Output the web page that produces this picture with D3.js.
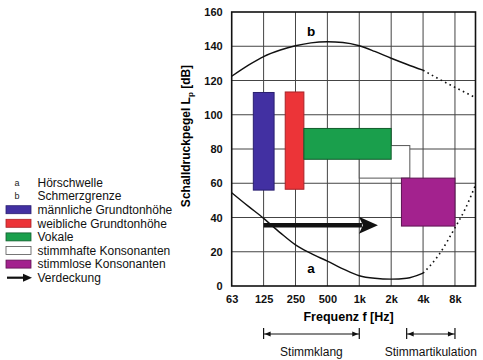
<!DOCTYPE html>
<html><head><meta charset="utf-8">
<script src="https://cdn.jsdelivr.net/npm/d3@7"></script>
<style>
html,body{margin:0;padding:0;background:#fff;}
svg{display:block;font-family:"Liberation Sans",Arial,sans-serif;}
</style></head>
<body><svg id="c" width="483" height="360"></svg>
<script>
// ---------- data ----------
const freqTicks = [62.5, 125, 250, 500, 1000, 2000, 4000, 8000];
const freqTickLabels = ["63", "125", "250", "500", "1k", "2k", "4k", "8k"];
const dbTicks = [0, 20, 40, 60, 80, 100, 120, 140, 160];

// Schmerzgrenze (b)
const painFreq  = [62.5, 90, 125, 180, 250, 350, 500, 700, 1000, 1400, 2000, 2800, 4000];
const painDb    = [122.5, 129, 134, 137.8, 140.3, 142, 142.6, 142.2, 140.3, 137, 133, 129.5, 126];
const painDotFreq = [4000, 5600, 8000, 10000, 12500];
const painDotDb   = [126, 121, 116, 113, 110];

// Hörschwelle (a)
const hearFreq  = [62.5, 90, 125, 180, 250, 350, 500, 700, 1000, 1400, 2000, 2800, 4000];
const hearDb    = [54.5, 46.5, 39.5, 31, 24, 19, 14.5, 10, 6, 4.5, 4, 4.5, 7.5];
const hearDotFreq = [4000, 5600, 8000, 10000, 12500];
const hearDotDb   = [7.5, 18, 34, 45, 59];

// areas: [fLow, fHigh, dbLow, dbHigh]
const areaNames = ["stimmhafte Konsonanten", "männliche Grundtonhöhe", "weibliche Grundtonhöhe", "Vokale", "stimmlose Konsonanten"];
const areaFLow  = [1000, 100, 200, 300, 2500];
const areaFHigh = [3000, 157, 300, 2000, 8000];
const areaDbLow = [63, 56, 56.5, 74, 35];
const areaDbHigh= [82, 113, 113.3, 92, 63];

// Verdeckung arrow
const arrowFreq = [125, 1500];
const arrowDb = 35.5;

const legendLabels = ["Hörschwelle", "Schmerzgrenze", "männliche Grundtonhöhe", "weibliche Grundtonhöhe", "Vokale", "stimmhafte Konsonanten", "stimmlose Konsonanten", "Verdeckung"];
const legendKinds  = ["a", "b", "männliche Grundtonhöhe", "weibliche Grundtonhöhe", "Vokale", "stimmhafte Konsonanten", "stimmlose Konsonanten", "arrow"];

const brackets = [
  {label: "Stimmklang", from: 125, to: 1000},
  {label: "Stimmartikulation", from: 2800, to: 8000}
];

// ---------- styles ----------
const fills = {
  "männliche Grundtonhöhe": "#4230a2",
  "weibliche Grundtonhöhe": "#ec3438",
  "Vokale": "#1a9f4c",
  "stimmhafte Konsonanten": "#ffffff",
  "stimmlose Konsonanten": "#a3228e"
};
const strokes = {
  "männliche Grundtonhöhe": "#2a1f70",
  "weibliche Grundtonhöhe": "#a82227",
  "Vokale": "#115c2c",
  "stimmhafte Konsonanten": "#555",
  "stimmlose Konsonanten": "#5e1352"
};

const svg = d3.select("#c");
const L = 231.7, R = 475.5, T = 12, B = 286;
const x = d3.scaleLog().base(2).domain([62.5, 12500]).range([L, R]);
const y = d3.scaleLinear().domain([0, 160]).range([B, T]);

// grid
const g = svg.append("g");
g.selectAll(".vg").data(freqTicks.slice(1)).join("line")
  .attr("x1", d => x(d)).attr("x2", d => x(d)).attr("y1", T).attr("y2", B)
  .attr("stroke", "#444").attr("stroke-width", 1);
g.selectAll(".hg").data(dbTicks.slice(1, -1)).join("line")
  .attr("x1", L).attr("x2", R).attr("y1", d => y(d)).attr("y2", d => y(d))
  .attr("stroke", "#444").attr("stroke-width", 1);

// areas
const areas = areaNames.map((n, i) => ({n, f0: areaFLow[i], f1: areaFHigh[i], d0: areaDbLow[i], d1: areaDbHigh[i]}));
svg.append("g").selectAll("rect").data(areas).join("rect")
  .attr("x", d => x(d.f0)).attr("width", d => x(d.f1) - x(d.f0))
  .attr("y", d => y(d.d1)).attr("height", d => y(d.d0) - y(d.d1))
  .attr("fill", d => fills[d.n]).attr("stroke", d => strokes[d.n]).attr("stroke-width", 1);

// curves
const line = d3.line().x(d => x(d[0])).y(d => y(d[1])).curve(d3.curveMonotoneX);
function drawCurve(fs, ds, dotted) {
  svg.append("path").datum(fs.map((f, i) => [f, ds[i]]))
    .attr("d", line).attr("fill", "none").attr("stroke", "#111")
    .attr("stroke-width", dotted ? 1.6 : 1.4)
    .attr("stroke-dasharray", dotted ? "1.6,3.4" : null);
}
drawCurve(painFreq, painDb, false);
drawCurve(painDotFreq, painDotDb, true);
drawCurve(hearFreq, hearDb, false);
drawCurve(hearDotFreq, hearDotDb, true);

// arrow
const ax0 = x(arrowFreq[0]), ax1 = x(arrowFreq[1]), ay = y(arrowDb);
svg.append("line").attr("x1", ax0).attr("x2", ax1 - 16).attr("y1", ay).attr("y2", ay)
  .attr("stroke", "#111").attr("stroke-width", 4.5);
svg.append("path").attr("d", `M${ax1},${ay} L${ax1 - 19},${ay - 8.5} L${ax1 - 15},${ay} L${ax1 - 19},${ay + 8.5} Z`)
  .attr("fill", "#111");

// frame
svg.append("rect").attr("x", L).attr("y", T).attr("width", R - L).attr("height", B - T)
  .attr("fill", "none").attr("stroke", "#111").attr("stroke-width", 1.6);

// curve labels
svg.append("text").attr("x", 311).attr("y", 36).attr("text-anchor", "middle")
  .attr("font-size", 13.5).attr("font-weight", "bold").text("b");
svg.append("text").attr("x", 311).attr("y", 273).attr("text-anchor", "middle")
  .attr("font-size", 13.5).attr("font-weight", "bold").text("a");

// axes
const yAxis = svg.append("g").attr("transform", `translate(${L},0)`)
  .call(d3.axisLeft(y).tickValues(dbTicks).tickSize(0).tickPadding(9));
yAxis.select(".domain").remove();
yAxis.selectAll("text").attr("font-size", 11).attr("font-weight", "bold")
  .attr("font-family", "'Liberation Sans',Arial,sans-serif").attr("fill", "#111");

const xAxis = svg.append("g").attr("transform", `translate(0,${B})`)
  .call(d3.axisBottom(x).tickValues(freqTicks).tickFormat((d, i) => freqTickLabels[i]).tickSize(0).tickPadding(9));
xAxis.select(".domain").remove();
xAxis.selectAll("text").attr("font-size", 11).attr("font-weight", "bold")
  .attr("font-family", "'Liberation Sans',Arial,sans-serif").attr("fill", "#111");

// axis titles
svg.append("text").attr("x", (L + R) / 2 - 5).attr("y", 321).attr("text-anchor", "middle")
  .attr("font-size", 12.5).attr("font-weight", "bold").text("Frequenz f [Hz]");
const yt = svg.append("text").attr("transform", "translate(190,136) rotate(-90)")
  .attr("text-anchor", "middle").attr("font-size", 12).attr("font-weight", "bold");
yt.append("tspan").text("Schalldruckpegel L");
yt.append("tspan").attr("font-size", 8).attr("dy", 3).text("p");
yt.append("tspan").attr("dy", -3).text(" [dB]");

// brackets
const by = 334;
brackets.forEach(b => {
  const x0 = x(b.from), x1 = x(b.to);
  svg.append("line").attr("x1", x0).attr("x2", x1).attr("y1", by).attr("y2", by).attr("stroke", "#111").attr("stroke-width", 1);
  [x0, x1].forEach(xx => svg.append("line").attr("x1", xx).attr("x2", xx).attr("y1", by - 6).attr("y2", by + 5)
    .attr("stroke", "#111").attr("stroke-width", 1.2));
  svg.append("path").attr("d", `M${x0 + 1},${by} L${x0 + 7},${by - 2.5} L${x0 + 7},${by + 2.5} Z`).attr("fill", "#111");
  svg.append("path").attr("d", `M${x1 - 1},${by} L${x1 - 7},${by - 2.5} L${x1 - 7},${by + 2.5} Z`).attr("fill", "#111");
  svg.append("text").attr("x", (x0 + x1) / 2).attr("y", 356).attr("text-anchor", "middle")
    .attr("font-size", 12).attr("fill", "#111").text(b.label);
});

// legend
const lg = svg.append("g");
const rowY = i => 182.5 + i * 13.6;
legendLabels.forEach((lab, i) => {
  const k = legendKinds[i], cy = rowY(i);
  if (k === "a" || k === "b") {
    lg.append("text").attr("x", 17).attr("y", cy + 3).attr("text-anchor", "middle")
      .attr("font-size", 9).attr("fill", "#222").text(k);
  } else if (k === "arrow") {
    lg.append("line").attr("x1", 7).attr("x2", 24).attr("y1", cy).attr("y2", cy).attr("stroke", "#111").attr("stroke-width", 2.2);
    lg.append("path").attr("d", `M32,${cy} L23,${cy - 4} L23,${cy + 4} Z`).attr("fill", "#111");
  } else {
    lg.append("rect").attr("x", 6).attr("y", cy - 4).attr("width", 25).attr("height", 8)
      .attr("fill", fills[k]).attr("stroke", strokes[k]).attr("stroke-width", 0.8);
  }
  lg.append("text").attr("x", 37.5).attr("y", cy + 4.3).attr("font-size", 12).attr("fill", "#111").text(lab);
});
</script>
</body></html>
